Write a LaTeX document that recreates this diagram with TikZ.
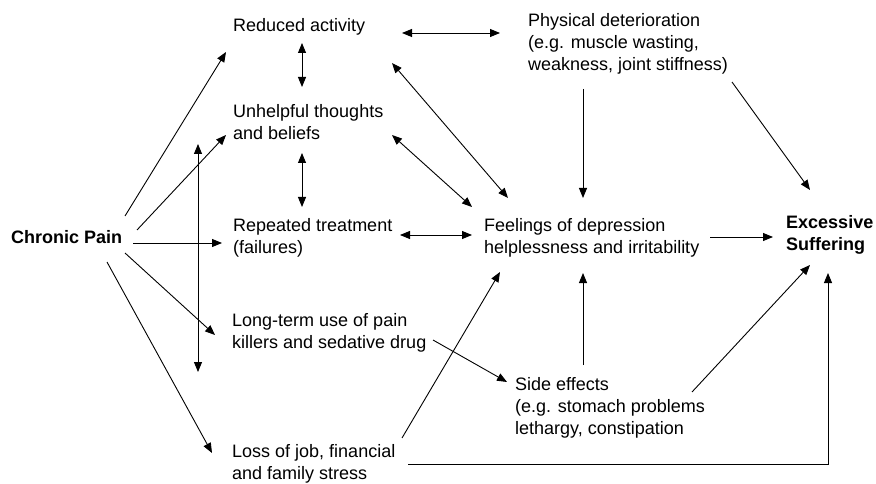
\documentclass[tikz,border=0pt]{standalone}
\usepackage{fontspec}
\setmainfont{Liberation Sans}
\usetikzlibrary{arrows.meta}
\begin{document}
\begin{tikzpicture}[x=1pt,y=-1pt,
  lbl/.style={anchor=base west,inner sep=0pt,align=left,font=\fontsize{18}{22}\selectfont},
  blbl/.style={lbl,font=\fontsize{18}{22}\selectfont\bfseries},
  arr/.style={line width=0.9pt,-{Triangle[length=10pt,width=8pt]}},
  darr/.style={line width=0.9pt,{Triangle[length=10pt,width=8pt]}-{Triangle[length=10pt,width=8pt]}}]
\fill[white] (0,0) rectangle (876,484);
\useasboundingbox (0,0) rectangle (876,484);

% base points are the baselines of the last lines
\node[blbl] (cp) at (11,243) {Chronic Pain};
\node[lbl] (ra) at (233,32) {Reduced activity};
\node[lbl] (ut) at (233,140) {Unhelpful thoughts\\and beliefs};
\node[lbl] (rt) at (233,253) {Repeated treatment\\(failures)};
\node[lbl] (lt) at (232,348) {Long-term use of pain\\killers and sedative drug};
\node[lbl] (lj) at (232,479) {Loss of job, financial\\and family stress};
\node[lbl] (pd) at (528,71) {Physical deterioration\\(e.g. muscle wasting,\\weakness, joint stiffness)};
\node[lbl] (fd) at (484,253) {Feelings of depression\\helplessness and irritability};
\node[lbl] (se) at (515,434) {Side effects\\(e.g. stomach problems\\lethargy, constipation};
\node[blbl] (es) at (786,250) {Excessive\\Suffering};

\coordinate (vtop) at (198,144);
\coordinate (vbot) at (198,372);

% from Chronic Pain
\draw[arr] ([shift={(114,-27)}]cp.base west) -- ([shift={(-7,20)}]ra.base west);
\draw[arr] ([shift={(126,-13)}]cp.base west) -- ([shift={(-7,-5)}]ut.base west);
\draw[arr] ([shift={(122,0)}]cp.base west) -- ([shift={(-11,-10)}]rt.base west);
\draw[arr] ([shift={(114,10)}]cp.base west) -- ([shift={(-17,-13)}]lt.base west);
\draw[arr] ([shift={(96,19)}]cp.base west) -- ([shift={(-20,-26)}]lj.base west);
\draw[darr] (vtop) -- (vbot);

% left column links
\draw[darr] ([shift={(69,11)}]ra.base west) -- ([shift={(69,-53)}]ut.base west);
\draw[darr] ([shift={(69,13)}]ut.base west) -- ([shift={(69,-46)}]rt.base west);
\draw[darr] ([shift={(169,1)}]ra.base west) -- ([shift={(-28,-38)}]pd.base west);
\draw[darr] ([shift={(159,31)}]ra.base west) -- ([shift={(24,-55)}]fd.base west);
\draw[darr] ([shift={(159,-5)}]ut.base west) -- ([shift={(-12,-46)}]fd.base west);
\draw[darr] ([shift={(167,-18)}]rt.base west) -- ([shift={(-12,-18)}]fd.base west);

% middle and right
\draw[arr] ([shift={(55,18)}]pd.base west) -- ([shift={(99,-55)}]fd.base west);
\draw[arr] ([shift={(204,11)}]pd.base west) -- ([shift={(24,-60)}]es.base west);
\draw[arr] ([shift={(226,-16)}]fd.base west) -- ([shift={(-13,-13)}]es.base west);
\draw[arr] ([shift={(68,-69)}]se.base west) -- ([shift={(99,20)}]fd.base west);
\draw[arr] ([shift={(177,-42)}]se.base west) -- ([shift={(24,15)}]es.base west);
\draw[arr] ([shift={(201,-8)}]lt.base west) -- ([shift={(-8,-52)}]se.base west);
\draw[arr] ([shift={(170,-41)}]lj.base west) -- ([shift={(16,19)}]fd.base west);
\draw[arr] ([shift={(176,-15)}]lj.base west) -| ([shift={(42,23)}]es.base west);
\end{tikzpicture}
\end{document}
